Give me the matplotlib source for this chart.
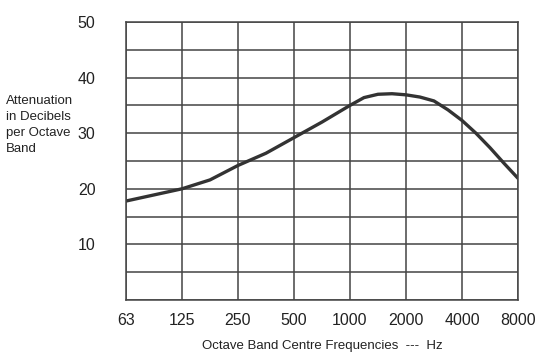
import numpy as np
import matplotlib.pyplot as plt

plt.rcParams['font.family'] = ['Liberation Sans', 'DejaVu Sans']

# octave band labels
bands = ["63", "125", "250", "500", "1000", "2000", "4000", "8000"]

# curve, position = index into bands
octave_pos = [0, 0.5, 1, 1.5, 2, 2.5, 3, 3.5, 4, 4.25, 4.5, 4.75, 5, 5.25, 5.5, 5.75, 6, 6.25, 6.5, 6.75, 7]
attenuation = [17.8, 18.9, 20.0, 21.6, 24.2, 26.4, 29.2, 32.0, 35.0, 36.4, 37.0, 37.1, 36.9, 36.5,
               35.8, 34.2, 32.3, 30.0, 27.4, 24.6, 21.9]

fig = plt.figure(figsize=(5.51, 3.54), dpi=100)
ax = fig.add_axes([0.2287, 0.1525, 0.7113, 0.7854])

ax.plot(octave_pos, attenuation, color="#333333", lw=2.4, solid_capstyle="round",
        solid_joinstyle="round")

ax.set_xlim(0, 7)
ax.set_ylim(0, 50)
ax.set_xticks(range(len(bands)))
ax.set_xticklabels(bands)
ax.set_yticks(np.arange(0, 51, 5), minor=True)
ax.set_yticks([10, 20, 30, 40, 50])
ax.grid(True, which="both", color="#444444", lw=1.1)
ax.tick_params(which="both", length=0, labelsize=11.5, colors="#222222")
ax.tick_params(axis="x", pad=9)
ax.tick_params(axis="y", pad=22)
for s in ax.spines.values():
    s.set_color("#444444")
    s.set_linewidth(1.1)

ax.set_xlabel("Octave Band Centre Frequencies  ---  Hz", fontsize=9.5, labelpad=9, color="#222222")
fig.text(6 / 551, 1 - 95 / 354, "Attenuation\nin Decibels\nper Octave\nBand",
         fontsize=9.5, va="top", ha="left", linespacing=1.45, color="#222222")

fig.savefig("out.png", dpi=100)
